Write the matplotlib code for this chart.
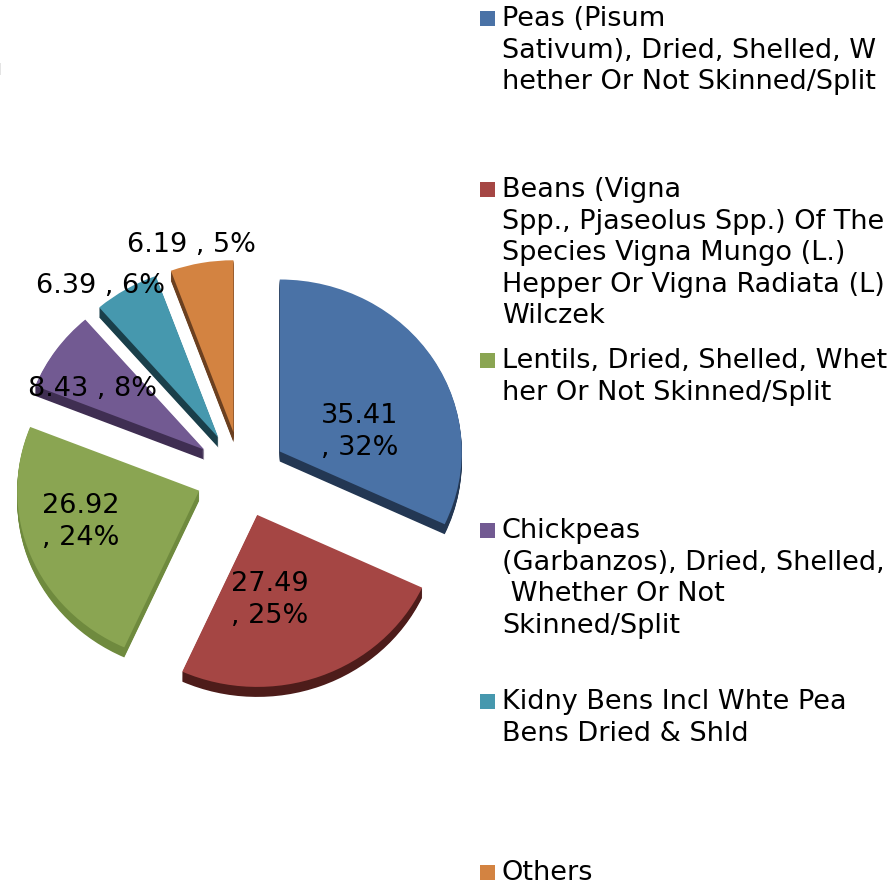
import matplotlib
matplotlib.use("Agg")
import matplotlib.pyplot as plt
from matplotlib.patches import Rectangle
import numpy as np

WIDTH, HEIGHT = 892, 885

# chart data
values = [35.41, 27.49, 26.92, 8.43, 6.39, 6.19]
percents = [32, 25, 24, 8, 6, 5]
legend_labels = [
    "Peas (Pisum\nSativum), Dried, Shelled, W\nhether Or Not Skinned/Split",
    "Beans (Vigna\nSpp., Pjaseolus Spp.) Of The\nSpecies Vigna Mungo (L.)\nHepper Or Vigna Radiata (L)\nWilczek",
    "Lentils, Dried, Shelled, Whet\nher Or Not Skinned/Split",
    "Chickpeas\n(Garbanzos), Dried, Shelled,\n Whether Or Not\nSkinned/Split",
    "Kidny Bens Incl Whte Pea\nBens Dried & Shld",
    "Others",
]

# styling
top_colors = ["#4a72a6", "#a54644", "#8aa552", "#725a92", "#4698ae", "#d38341"]
side_colors = ["#233753", "#4d1c1a", "#6f8a3e", "#3f2e52", "#1a3f4a", "#6b4020"]
label_breaks = ["\n", "\n", "\n", " ", " ", " "]
label_centers = [(360, 432), (270, 600), (81, 522), (93, 389), (100, 286), (191, 245)]
legend_tops = [6, 177, 348, 518, 689, 860]

# pie geometry in pixels
cx, cy = 241.4, 474.6
rx, ry = 182, 172
depth = 10 / ry
font_size = 19.5


def fig_xy(px, py):
    return px / WIDTH, 1 - py / HEIGHT


fig = plt.figure(figsize=(WIDTH / 100, HEIGHT / 100), dpi=100)
ax = fig.add_axes([0, 0, 1, 1])

# stack the dark copies first so the slices look extruded
for offset in np.linspace(depth, 0, 12)[:-1]:
    ax.pie(values, colors=side_colors, explode=[0.25] * len(values), startangle=90,
           counterclock=False, center=(0, -offset), wedgeprops={"linewidth": 0})
ax.pie(values, colors=top_colors, explode=[0.25] * len(values), startangle=90,
       counterclock=False, wedgeprops={"linewidth": 0})

ax.set_aspect("auto")
ax.set_xlim(-cx / rx, (WIDTH - cx) / rx)
ax.set_ylim((cy - HEIGHT) / ry, cy / ry)
ax.axis("off")

for value, pct, brk, (px, py) in zip(values, percents, label_breaks, label_centers):
    x, y = fig_xy(px, py)
    fig.text(x, y, f"{value:.2f}{brk}, {pct}%" if brk == "\n" else f"{value:.2f} , {pct}%",
             ha="center", va="center", fontsize=font_size, color="black", linespacing=1.28)

for label, color, top in zip(legend_labels, top_colors, legend_tops):
    x, y = fig_xy(502, top)
    fig.text(x, y, label, ha="left", va="top", fontsize=font_size, color="black", linespacing=1.28)
    bx, by = fig_xy(480, top + 20)
    fig.add_artist(Rectangle((bx, by), 15 / WIDTH, 15 / HEIGHT, transform=fig.transFigure,
                             facecolor=color, edgecolor="none"))

# faint stray mark on the left edge of the original
bx, by = fig_xy(0, 75)
fig.add_artist(Rectangle((bx, by), 1 / WIDTH, 12 / HEIGHT, transform=fig.transFigure,
                         facecolor="#e4e4e4", edgecolor="none"))

fig.savefig("out.png", dpi=100)
